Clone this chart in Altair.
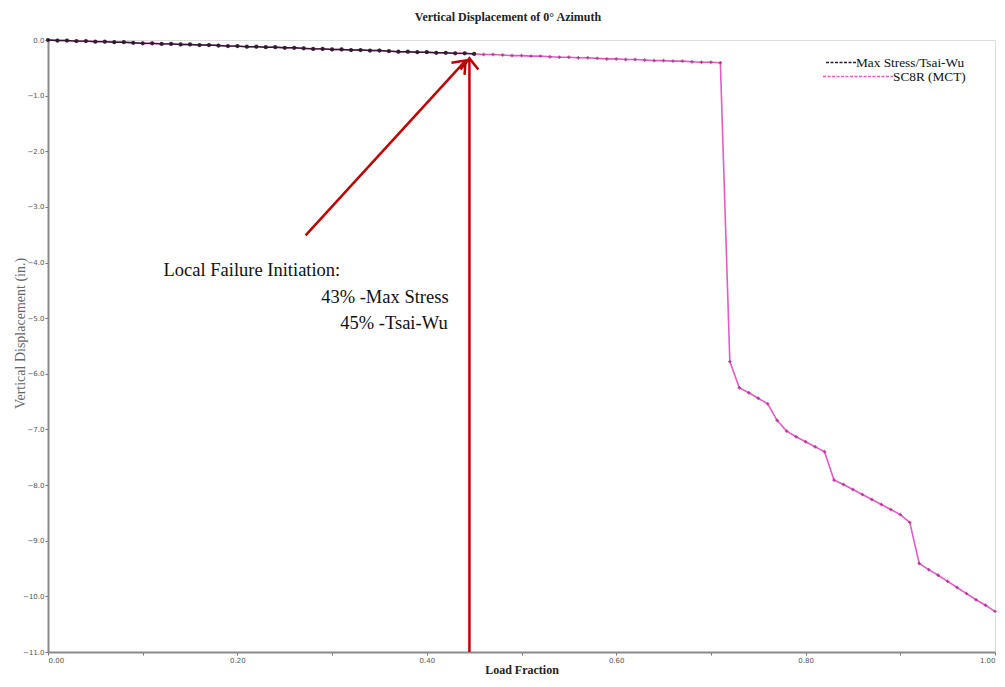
import altair as alt
import pandas as pd

# Load fraction steps (0.00 .. 1.00 by 0.01)
load_black = [round(i * 0.01, 2) for i in range(46)]
disp_black = [0.00, -0.01, -0.01, -0.02, -0.02, -0.03, -0.03, -0.04, -0.04, -0.05,
              -0.06, -0.06, -0.07, -0.07, -0.08, -0.08, -0.09, -0.09, -0.10, -0.11,
              -0.11, -0.12, -0.12, -0.13, -0.13, -0.14, -0.14, -0.15, -0.16, -0.16,
              -0.17, -0.17, -0.18, -0.18, -0.19, -0.19, -0.20, -0.21, -0.21, -0.22,
              -0.22, -0.23, -0.23, -0.24, -0.24, -0.25]

# SC8R (MCT) continues past the Max Stress / Tsai-Wu curve
load_pink_tail = [round(0.46 + i * 0.01, 2) for i in range(55)]
disp_pink_tail = [-0.26, -0.26, -0.27, -0.28, -0.28, -0.29, -0.29, -0.30, -0.31, -0.31,
                  -0.32, -0.32, -0.33, -0.34, -0.34, -0.35, -0.35, -0.36, -0.37, -0.37,
                  -0.38, -0.38, -0.39, -0.40, -0.40, -0.41,
                  -5.78, -6.25, -6.34, -6.44, -6.54, -6.84, -7.03, -7.13, -7.22, -7.31,
                  -7.40, -7.91, -7.99, -8.08, -8.17, -8.26, -8.35, -8.44, -8.53, -8.67,
                  -9.41, -9.52, -9.62, -9.73, -9.84, -9.95, -10.06, -10.16, -10.27]

x_ticks = [round(i * 0.1, 1) for i in range(11)]
y_ticks = [round(-i * 0.5, 1) for i in range(23)]

SERIF = "Liberation Serif"
PINK = "#e35cc6"
PINK_MARK = "#a8308f"
DARK = "#2b1b2b"
RED = "#c00000"

black_df = pd.DataFrame({"load": load_black, "disp": disp_black})
pink_df = pd.DataFrame({"load": load_black + load_pink_tail,
                        "disp": disp_black + disp_pink_tail})

x_enc = alt.X("load:Q",
              scale=alt.Scale(domain=[0, 1], nice=False, zero=False),
              axis=alt.Axis(values=x_ticks, format=".2f",
                            labelExpr="(round(datum.value*10) % 2 == 0) ? datum.label : ''",
                            title="Load Fraction", titleFont=SERIF, titleFontSize=12,
                            titleFontWeight="bold", titleColor="#222",
                            titleY=17, titleBaseline="middle",
                            labelFont="DejaVu Sans", labelFontSize=7, labelColor="#555",
                            labelPadding=1, tickSize=3, tickColor="#777",
                            domainColor="#8a8a8a", domainWidth=2, grid=False))
y_enc = alt.Y("disp:Q",
              scale=alt.Scale(domain=[-11, 0], nice=False, zero=False),
              axis=alt.Axis(values=y_ticks, format=".1f",
                            labelExpr="(round(datum.value*2) % 2 == 0) ? datum.label : ''",
                            title="Vertical Displacement (in.)", titleFont=SERIF,
                            titleFontSize=14, titleFontWeight="normal", titleColor="#666",
                            titleX=-28, titleY=293, titleBaseline="middle",
                            labelFont="DejaVu Sans", labelFontSize=7, labelColor="#555",
                            labelPadding=1, tickSize=3, tickColor="#777",
                            domainColor="#8a8a8a", domainWidth=2, grid=False))

pink_line = alt.Chart(pink_df).mark_line(color=PINK, strokeWidth=1.6).encode(x=x_enc, y=y_enc)
pink_pts = alt.Chart(pink_df).mark_point(shape="cross", size=12, filled=True,
                                         color=PINK_MARK, opacity=0.8).encode(x="load:Q", y="disp:Q")
black_line = alt.Chart(black_df).mark_line(color=DARK, strokeWidth=1.4).encode(x="load:Q", y="disp:Q")
black_pts = alt.Chart(black_df).mark_point(shape="circle", size=18, filled=True,
                                           color=DARK, opacity=0.9).encode(x="load:Q", y="disp:Q")

# Failure-initiation annotation: vertical marker and pointer arrow
arrows = pd.DataFrame({"x0": [0.445, 0.272], "y0": [-11.0, -3.51],
                       "x1": [0.445, 0.441], "y1": [-0.33, -0.37]})
arrow_lines = alt.Chart(arrows).mark_rule(color=RED, strokeWidth=2.5).encode(
    x="x0:Q", y="y0:Q", x2="x1:Q", y2="y1:Q")

heads = pd.DataFrame({"x": [0.445, 0.441], "y": [-0.33, -0.37], "ang": [0, 43]})
arrow_heads = alt.Chart(heads).mark_point(
    shape="M -0.8 1 L 0 0 L 0.8 1", filled=False, color=RED, strokeWidth=2.5,
    size=500, opacity=1).encode(x="x:Q", y="y:Q", angle=alt.Angle("ang:Q", scale=None))

notes = pd.DataFrame({
    "x": [0.122, 0.423, 0.422],
    "y": [-4.14, -4.62, -5.08],
    "txt": ["Local Failure Initiation:", "43% -Max Stress", "45% -Tsai-Wu"],
    "al": ["left", "right", "right"],
})
note_left = alt.Chart(notes[notes.al == "left"]).mark_text(
    font=SERIF, fontSize=18.5, align="left", baseline="middle", color="#111").encode(
    x="x:Q", y="y:Q", text="txt:N")
note_right = alt.Chart(notes[notes.al == "right"]).mark_text(
    font=SERIF, fontSize=18.5, align="right", baseline="middle", color="#111").encode(
    x="x:Q", y="y:Q", text="txt:N")

# Title and text legend
title = alt.Chart(pd.DataFrame({"t": ["Vertical Displacement of 0° Azimuth"]})).mark_text(
    font=SERIF, fontSize=12, fontWeight="bold", color="#222", align="center",
    baseline="middle").encode(x=alt.value(460), y=alt.value(-23), text="t:N")

leg_df = pd.DataFrame({
    "label": ["Max Stress/Tsai-Wu", "SC8R (MCT)"],
    "col": [DARK, PINK],
    "px0": [778, 775],
    "px": [808, 845],
    "py": [22.5, 36.5],
})
leg_dash = alt.Chart(leg_df).mark_rule(strokeWidth=1.5, strokeDash=[3, 1.5]).encode(
    x=alt.X("px0:Q", scale=None), x2="px:Q", y=alt.Y("py:Q", scale=None),
    color=alt.Color("col:N", scale=None))
leg_label = alt.Chart(leg_df).mark_text(font=SERIF, fontSize=13.3, align="left",
                                        baseline="middle", color="#111").encode(
    x=alt.X("px:Q", scale=None), y=alt.Y("py:Q", scale=None), text="label:N")

chart = alt.layer(
    pink_line, pink_pts, black_line, black_pts,
    arrow_lines, arrow_heads, note_left, note_right, title, leg_dash, leg_label
).properties(
    width=947, height=612,
    autosize=alt.AutoSizeParams(type="none"),
    padding={"left": 48, "top": 40, "right": 10, "bottom": 35},
).configure_view(
    stroke="#9a9a9a", strokeWidth=1.5
).configure(background="white")

chart.save("out.html", embed_options={"renderer": "svg", "actions": False})
